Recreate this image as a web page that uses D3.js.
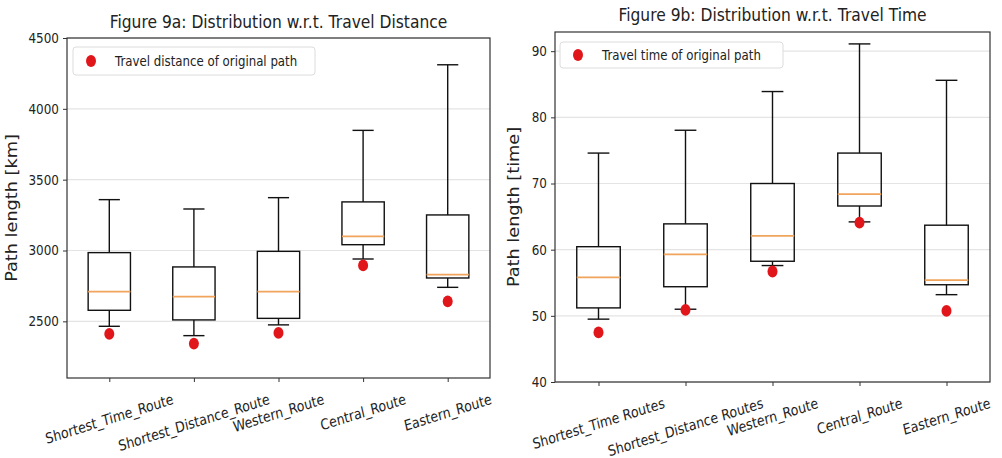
<!DOCTYPE html>
<html>
<head>
<meta charset="utf-8">
<script src="https://cdn.jsdelivr.net/npm/d3@7"></script>
<style>
  body { margin: 0; background: #fff; }
  svg { font-family: "DejaVu Sans", sans-serif; }
</style>
</head>
<body>
<div id="chart"></div>
<script>
// ---- data ----
const distanceRoutes = ['Shortest_Time_Route', 'Shortest_Distance_Route', 'Western_Route', 'Central_Route', 'Eastern_Route'];
const distanceLow = [2465, 2399, 2475, 2940, 2740];
const distanceQ1 = [2578, 2510, 2521, 3041, 2806];
const distanceMedian = [2710, 2674, 2710, 3100, 2830];
const distanceQ3 = [2985, 2884, 2994, 3343, 3251];
const distanceHigh = [3359, 3293, 3373, 3848, 4311];
const distanceOriginal = [2411, 2343, 2418, 2895, 2641];
const distanceTicks = [2500, 3000, 3500, 4000, 4500];

const timeRoutes = ['Shortest_Time Routes', 'Shortest_Distance Routes', 'Western_Route', 'Central_Route', 'Eastern_Route'];
const timeLow = [49.5, 51.0, 57.6, 64.2, 53.2];
const timeQ1 = [51.2, 54.4, 58.25, 66.6, 54.7];
const timeMedian = [55.8, 59.3, 62.1, 68.4, 55.4];
const timeQ3 = [60.45, 63.9, 70.0, 74.6, 63.7];
const timeHigh = [74.6, 78.05, 83.9, 91.1, 85.6];
const timeOriginal = [47.5, 50.9, 56.7, 64.1, 50.75];
const timeTicks = [40, 50, 60, 70, 80, 90];

// the picture is stretched vertically, text included
const stretch = 1.18;

const svg = d3.select('#chart').append('svg')
    .attr('width', 1002)
    .attr('height', 458);

const toRows = (names, low, q1, med, q3, high, orig) =>
    names.map((name, i) => ({
        name, low: low[i], q1: q1[i], med: med[i], q3: q3[i], high: high[i], orig: orig[i]
    }));

// text placed at (x, y), stretched vertically like the reference
const addText = (parent, x, y, str, size, anchor, rot) => parent.append('text')
    .attr('transform', 'translate(' + x + ',' + y + ') scale(1,' + stretch + ')' + (rot ? ' rotate(' + rot + ')' : ''))
    .attr('text-anchor', anchor || 'start')
    .attr('dominant-baseline', 'central')
    .attr('font-size', size)
    .attr('fill', '#222')
    .text(str);

const drawPanel = cfg => {
    const rows = cfg.rows;
    const x = d3.scaleLinear().domain([0.5, rows.length + 0.5]).range([cfg.left, cfg.right]);
    const y = d3.scaleLinear().domain(cfg.domain).range([cfg.bottom, cfg.top]);
    const unit = x(1) - x(0);
    const g = svg.append('g');

    // grid
    g.append('g').selectAll('line')
        .data(cfg.ticks)
        .enter().append('line')
            .attr('x1', cfg.left).attr('x2', cfg.right)
            .attr('y1', d => y(d)).attr('y2', d => y(d))
            .attr('stroke', '#e4e4e4')
            .attr('stroke-width', 1.2);

    // y axis
    const yAxis = g.append('g')
        .attr('transform', 'translate(' + cfg.left + ',0)')
        .call(d3.axisLeft(y).tickValues(cfg.ticks).tickSize(4).tickFormat(''));
    yAxis.select('.domain').remove();
    yAxis.selectAll('line').attr('stroke', '#333');
    cfg.ticks.forEach(t => addText(g, cfg.left - 8, y(t), d3.format('d')(t), 12, 'end'));

    // x axis ticks
    const xAxis = g.append('g')
        .attr('transform', 'translate(0,' + cfg.bottom + ')')
        .call(d3.axisBottom(x).tickValues(d3.range(1, rows.length + 1)).tickSize(4).tickFormat(''));
    xAxis.select('.domain').remove();
    xAxis.selectAll('line').attr('stroke', '#333');

    // rotated x labels, top of rotated bbox hangs below the ticks
    const angle = 15 * Math.PI / 180;
    rows.forEach((d, i) => {
        const t = addText(g, 0, 0, d.name, 12.5, 'middle', -15);
        const w = t.node().getComputedTextLength();
        const h = 13;
        const bh = (w * Math.sin(angle) + h * Math.cos(angle)) * stretch;
        t.attr('transform', 'translate(' + x(i + 1) + ',' + (cfg.bottom + 13 + bh / 2) + ') scale(1,' + stretch + ') rotate(-15)');
    });

    // boxes
    const boxes = g.append('g').selectAll('g')
        .data(rows)
        .enter().append('g');
    boxes.append('line')
        .attr('x1', (d, i) => x(i + 1)).attr('x2', (d, i) => x(i + 1))
        .attr('y1', d => y(d.q3)).attr('y2', d => y(d.high))
        .attr('stroke', '#111').attr('stroke-width', 1.4);
    boxes.append('line')
        .attr('x1', (d, i) => x(i + 1)).attr('x2', (d, i) => x(i + 1))
        .attr('y1', d => y(d.q1)).attr('y2', d => y(d.low))
        .attr('stroke', '#111').attr('stroke-width', 1.4);
    ['high', 'low'].forEach(k => {
        boxes.append('line')
            .attr('x1', (d, i) => x(i + 1) - unit * 0.125).attr('x2', (d, i) => x(i + 1) + unit * 0.125)
            .attr('y1', d => y(d[k])).attr('y2', d => y(d[k]))
            .attr('stroke', '#111').attr('stroke-width', 1.4);
    });
    boxes.append('rect')
        .attr('x', (d, i) => x(i + 1) - unit * 0.25)
        .attr('width', unit * 0.5)
        .attr('y', d => y(d.q3))
        .attr('height', d => y(d.q1) - y(d.q3))
        .attr('fill', 'none')
        .attr('stroke', '#111').attr('stroke-width', 1.4);
    boxes.append('line')
        .attr('x1', (d, i) => x(i + 1) - unit * 0.25).attr('x2', (d, i) => x(i + 1) + unit * 0.25)
        .attr('y1', d => y(d.med)).attr('y2', d => y(d.med))
        .attr('stroke', '#f0a45c').attr('stroke-width', 1.8);

    // original path points
    g.append('g').selectAll('ellipse')
        .data(rows)
        .enter().append('ellipse')
            .attr('cx', (d, i) => x(i + 1))
            .attr('cy', d => y(d.orig))
            .attr('rx', 5).attr('ry', 5 * stretch)
            .attr('fill', '#e0161b');

    // frame
    g.append('rect')
        .attr('x', cfg.left).attr('y', cfg.top)
        .attr('width', cfg.right - cfg.left).attr('height', cfg.bottom - cfg.top)
        .attr('fill', 'none').attr('stroke', '#333').attr('stroke-width', 1.2);

    // legend
    const lg = g.append('g').attr('transform', 'translate(' + cfg.legend.x + ',' + cfg.legend.y + ')');
    lg.append('rect')
        .attr('width', cfg.legend.w).attr('height', cfg.legend.h)
        .attr('rx', 3)
        .attr('fill', '#fff').attr('stroke', '#dcdcdc');
    lg.append('ellipse')
        .attr('cx', 18).attr('cy', cfg.legend.h / 2).attr('rx', 5).attr('ry', 5 * stretch)
        .attr('fill', '#e0161b');
    addText(lg, 42, cfg.legend.h / 2, cfg.legend.label, 11.8);

    // title
    addText(g, (cfg.left + cfg.right) / 2, cfg.titleY, cfg.title, 15.5, 'middle');

    // y label
    addText(g, cfg.yLabelX, (cfg.top + cfg.bottom) / 2, cfg.yLabel, 15, 'middle', -90);
};

drawPanel({
    rows: toRows(distanceRoutes, distanceLow, distanceQ1, distanceMedian, distanceQ3, distanceHigh, distanceOriginal),
    domain: [2100, 4500],
    ticks: distanceTicks,
    left: 67, right: 490, top: 38, bottom: 378,
    title: 'Figure 9a: Distribution w.r.t. Travel Distance',
    titleY: 22,
    yLabel: 'Path length [km]',
    yLabelX: 12,
    legend: { x: 73, y: 47, w: 242, h: 28, label: 'Travel distance of original path' }
});

drawPanel({
    rows: toRows(timeRoutes, timeLow, timeQ1, timeMedian, timeQ3, timeHigh, timeOriginal),
    domain: [40, 92.9],
    ticks: timeTicks,
    left: 555, right: 990, top: 32, bottom: 382,
    title: 'Figure 9b: Distribution w.r.t. Travel Time',
    titleY: 15,
    yLabel: 'Path length [time]',
    yLabelX: 514,
    legend: { x: 560, y: 42, w: 223, h: 26, label: 'Travel time of original path' }
});
</script>
</body>
</html>
